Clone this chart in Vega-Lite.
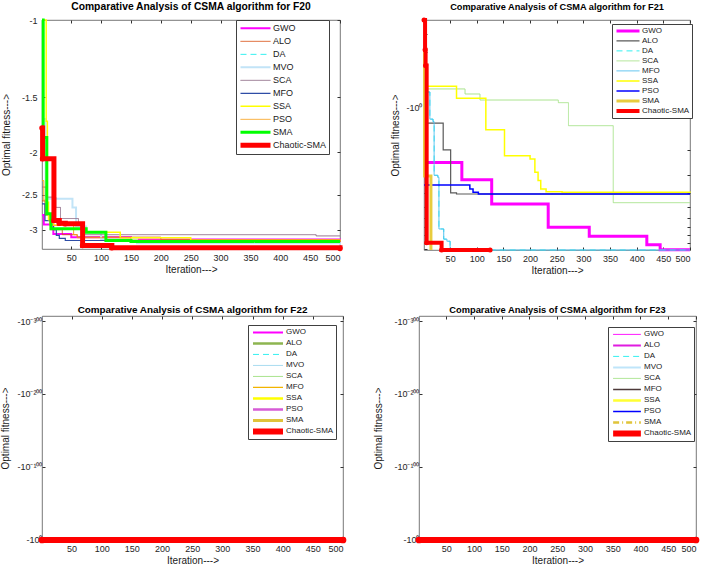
{
  "$schema": "https://vega.github.io/schema/vega-lite/v6.json",
  "padding": {"left": 0, "top": 1, "right": 2, "bottom": 0},
  "config": {
    "font": "Liberation Sans",
    "view": {"stroke": "#555555", "strokeWidth": 0.8},
    "axis": {"domain": false, "grid": false, "tickColor": "#333333", "labelColor": "#262626", "titleColor": "#1a1a1a", "titleFontWeight": "normal", "labelFontSize": 9, "titleFontSize": 10, "tickSize": -3, "labelOverlap": false},
    "axisX": {"labelPadding": 7, "titlePadding": 2},
    "axisY": {"labelPadding": 8},
    "legend": {"symbolType": "stroke", "title": null, "labelFontSize": 8.5, "padding": 2, "strokeColor": "#404040", "fillColor": "#ffffff", "labelColor": "#1a1a1a", "symbolSize": 900, "rowPadding": 0, "labelOffset": 0},
    "title": {"font": "Liberation Sans", "fontWeight": "bold", "color": "#000000", "frame": "group", "anchor": "middle"}
  },
  "datasets": {
    "f20": [
      {"a":"GWO","i":1,"v":-2.78},{"a":"GWO","i":4,"v":-2.92},{"a":"GWO","i":20,"v":-3.07},{"a":"GWO","i":50,"v":-3.12},{"a":"GWO","i":150,"v":-3.16},{"a":"GWO","i":500,"v":-3.2},
      {"a":"ALO","i":1,"v":-2.58},{"a":"ALO","i":6,"v":-2.78},{"a":"ALO","i":15,"v":-3.0},{"a":"ALO","i":35,"v":-3.08},{"a":"ALO","i":60,"v":-3.12},{"a":"ALO","i":200,"v":-3.16},{"a":"ALO","i":500,"v":-3.2},
      {"a":"DA","i":1,"v":-1.0},{"a":"DA","i":3,"v":-1.85},{"a":"DA","i":9,"v":-2.76},{"a":"DA","i":16,"v":-2.985},{"a":"DA","i":75,"v":-3.04},{"a":"DA","i":108,"v":-3.175},{"a":"DA","i":150,"v":-3.19},{"a":"DA","i":500,"v":-3.19},
      {"a":"MVO","i":1,"v":-1.68},{"a":"MVO","i":7,"v":-2.55},{"a":"MVO","i":52,"v":-2.67},{"a":"MVO","i":58,"v":-2.95},{"a":"MVO","i":75,"v":-3.05},{"a":"MVO","i":100,"v":-3.15},{"a":"MVO","i":160,"v":-3.22},{"a":"MVO","i":500,"v":-3.25},
      {"a":"SCA","i":1,"v":-2.4},{"a":"SCA","i":8,"v":-2.53},{"a":"SCA","i":24,"v":-2.67},{"a":"SCA","i":32,"v":-2.83},{"a":"SCA","i":62,"v":-2.93},{"a":"SCA","i":72,"v":-3.08},{"a":"SCA","i":460,"v":-3.10},{"a":"SCA","i":500,"v":-3.10},
      {"a":"MFO","i":1,"v":-2.62},{"a":"MFO","i":6,"v":-2.86},{"a":"MFO","i":20,"v":-3.0},{"a":"MFO","i":25,"v":-3.09},{"a":"MFO","i":30,"v":-3.14},{"a":"MFO","i":40,"v":-3.175},{"a":"MFO","i":500,"v":-3.19},
      {"a":"SSA","i":1,"v":-1.0},{"a":"SSA","i":8,"v":-1.7},{"a":"SSA","i":10,"v":-2.6},{"a":"SSA","i":12,"v":-2.85},{"a":"SSA","i":20,"v":-2.93},{"a":"SSA","i":68,"v":-3.04},{"a":"SSA","i":132,"v":-3.13},{"a":"SSA","i":250,"v":-3.17},{"a":"SSA","i":500,"v":-3.19},
      {"a":"PSO","i":1,"v":-2.32},{"a":"PSO","i":4,"v":-2.57},{"a":"PSO","i":10,"v":-2.75},{"a":"PSO","i":14,"v":-2.93},{"a":"PSO","i":54,"v":-3.08},{"a":"PSO","i":60,"v":-3.13},{"a":"PSO","i":150,"v":-3.17},{"a":"PSO","i":500,"v":-3.19},
      {"a":"SMA","i":1,"v":-1.0},{"a":"SMA","i":3,"v":-1.85},{"a":"SMA","i":9,"v":-2.76},{"a":"SMA","i":16,"v":-2.985},{"a":"SMA","i":75,"v":-3.04},{"a":"SMA","i":108,"v":-3.175},{"a":"SMA","i":150,"v":-3.19},{"a":"SMA","i":500,"v":-3.19},
      {"a":"Chaotic-SMA","i":1,"v":-1.76},{"a":"Chaotic-SMA","i":2,"v":-2.07},{"a":"Chaotic-SMA","i":21,"v":-2.86},{"a":"Chaotic-SMA","i":30,"v":-2.90},{"a":"Chaotic-SMA","i":40,"v":-2.91},{"a":"Chaotic-SMA","i":69,"v":-3.26},{"a":"Chaotic-SMA","i":118,"v":-3.30},{"a":"Chaotic-SMA","i":500,"v":-3.31}
    ],
    "f21": [
      {"a":"GWO","i":1,"v":-2.43},{"a":"GWO","i":72,"v":-3.22},{"a":"GWO","i":128,"v":-4.79},{"a":"GWO","i":234,"v":-7.01},{"a":"GWO","i":311,"v":-8.11},{"a":"GWO","i":419,"v":-9.31},{"a":"GWO","i":444,"v":-10.1},{"a":"GWO","i":500,"v":-10.1},
      {"a":"ALO","i":1,"v":-1.28},{"a":"ALO","i":37,"v":-1.98},{"a":"ALO","i":51,"v":-4.0},{"a":"ALO","i":62,"v":-4.07},{"a":"ALO","i":500,"v":-4.07},
      {"a":"DA","i":1,"v":-0.59},{"a":"DA","i":6,"v":-0.77},{"a":"DA","i":12,"v":-1.2},{"a":"DA","i":18,"v":-1.25},{"a":"DA","i":20,"v":-3.0},{"a":"DA","i":27,"v":-3.1},{"a":"DA","i":29,"v":-7.2},{"a":"DA","i":38,"v":-8.5},{"a":"DA","i":44,"v":-8.8},{"a":"DA","i":50,"v":-10.15},{"a":"DA","i":500,"v":-10.15},
      {"a":"SCA","i":1,"v":-0.733},{"a":"SCA","i":78,"v":-0.796},{"a":"SCA","i":106,"v":-0.878},{"a":"SCA","i":253,"v":-0.917},{"a":"SCA","i":272,"v":-1.335},{"a":"SCA","i":356,"v":-4.69},{"a":"SCA","i":500,"v":-4.69},
      {"a":"MFO","i":1,"v":-0.59},{"a":"MFO","i":6,"v":-0.77},{"a":"MFO","i":12,"v":-1.2},{"a":"MFO","i":18,"v":-1.25},{"a":"MFO","i":20,"v":-3.0},{"a":"MFO","i":27,"v":-3.1},{"a":"MFO","i":29,"v":-7.2},{"a":"MFO","i":38,"v":-8.5},{"a":"MFO","i":44,"v":-8.8},{"a":"MFO","i":50,"v":-10.15},{"a":"MFO","i":500,"v":-10.15},
      {"a":"SSA","i":1,"v":-0.702},{"a":"SSA","i":62,"v":-0.854},{"a":"SSA","i":117,"v":-1.425},{"a":"SSA","i":152,"v":-2.18},{"a":"SSA","i":200,"v":-2.30},{"a":"SSA","i":209,"v":-2.86},{"a":"SSA","i":215,"v":-3.27},{"a":"SSA","i":220,"v":-3.75},{"a":"SSA","i":230,"v":-3.92},{"a":"SSA","i":260,"v":-3.96},{"a":"SSA","i":500,"v":-3.98},
      {"a":"PSO","i":1,"v":-3.51},{"a":"PSO","i":87,"v":-3.75},{"a":"PSO","i":93,"v":-3.96},{"a":"PSO","i":103,"v":-4.07},{"a":"PSO","i":500,"v":-4.07},
      {"a":"SMA","i":1,"v":-0.382},{"a":"SMA","i":2,"v":-3.03},{"a":"SMA","i":14,"v":-10.15},
      {"a":"Chaotic-SMA","i":1,"v":-0.238},{"a":"Chaotic-SMA","i":3,"v":-0.386},{"a":"Chaotic-SMA","i":4,"v":-0.50},{"a":"Chaotic-SMA","i":6,"v":-9.0},{"a":"Chaotic-SMA","i":34,"v":-10.15},{"a":"Chaotic-SMA","i":125,"v":-10.15}
    ],
    "f22": [
      {"a":"GWO","i":1,"v":-10.40},{"a":"GWO","i":500,"v":-10.40},
      {"a":"ALO","i":1,"v":-10.40},{"a":"ALO","i":500,"v":-10.40},
      {"a":"DA","i":1,"v":-10.40},{"a":"DA","i":500,"v":-10.40},
      {"a":"MVO","i":1,"v":-10.40},{"a":"MVO","i":500,"v":-10.40},
      {"a":"SCA","i":1,"v":-10.40},{"a":"SCA","i":500,"v":-10.40},
      {"a":"MFO","i":1,"v":-10.40},{"a":"MFO","i":500,"v":-10.40},
      {"a":"SSA","i":1,"v":-10.40},{"a":"SSA","i":500,"v":-10.40},
      {"a":"PSO","i":1,"v":-10.40},{"a":"PSO","i":500,"v":-10.40},
      {"a":"SMA","i":1,"v":-10.40},{"a":"SMA","i":500,"v":-10.40},
      {"a":"Chaotic-SMA","i":1,"v":-10.40},{"a":"Chaotic-SMA","i":500,"v":-10.40}
    ],
    "f23": [
      {"a":"GWO","i":1,"v":-10.53},{"a":"GWO","i":500,"v":-10.53},
      {"a":"ALO","i":1,"v":-10.53},{"a":"ALO","i":500,"v":-10.53},
      {"a":"DA","i":1,"v":-10.53},{"a":"DA","i":500,"v":-10.53},
      {"a":"MVO","i":1,"v":-10.53},{"a":"MVO","i":500,"v":-10.53},
      {"a":"SCA","i":1,"v":-10.53},{"a":"SCA","i":500,"v":-10.53},
      {"a":"MFO","i":1,"v":-10.53},{"a":"MFO","i":500,"v":-10.53},
      {"a":"SSA","i":1,"v":-10.53},{"a":"SSA","i":500,"v":-10.53},
      {"a":"PSO","i":1,"v":-10.53},{"a":"PSO","i":500,"v":-10.53},
      {"a":"SMA","i":1,"v":-10.53},{"a":"SMA","i":500,"v":-10.53},
      {"a":"Chaotic-SMA","i":1,"v":-10.53},{"a":"Chaotic-SMA","i":500,"v":-10.53}
    ]
  },
  "resolve": {"scale": {"color": "independent", "strokeWidth": "independent", "strokeDash": "independent", "x": "independent", "y": "independent"}, "legend": {"color": "independent", "strokeWidth": "independent", "strokeDash": "independent"}},
  "spacing": 28,
  "vconcat": [
    {
      "spacing": 39,
      "resolve": {"scale": {"color": "independent", "strokeWidth": "independent", "strokeDash": "independent", "x": "independent", "y": "independent"}, "legend": {"color": "independent", "strokeWidth": "independent", "strokeDash": "independent"}},
      "hconcat": [
        {
          "title": {"text": "Comparative Analysis of CSMA algorithm for F20", "fontSize": 10.3, "offset": 2},
          "width": 298, "height": 229,
          "data": {"name": "f20"},
          "resolve": {"axis": {"x": "independent", "y": "independent"}},
          "layer": [
            {
              "mark": {"type": "line", "interpolate": "step-after"},
              "encoding": {
                "x": {"field": "i", "type": "quantitative", "scale": {"domain": [1, 500], "nice": false}, "axis": {"title": "Iteration--->", "values": [50,100,150,200,250,300,350,400,450,500]}},
                "y": {"field": "v", "type": "quantitative", "scale": {"type": "log", "domain": [-3.32, -1], "nice": false}, "axis": {"title": "Optimal fitness--->", "values": [-1,-1.5,-2,-2.5,-3], "labelExpr": "'' + datum.value", "titlePadding": 10}},
                "color": {"field": "a", "type": "nominal", "scale": {"domain": ["GWO","ALO","DA","MVO","SCA","MFO","SSA","PSO","SMA","Chaotic-SMA"], "range": ["#FF00FF","#D95319","#33F0F0","#C2E4F7","#8E6B86","#2E4DA6","#FFFF00","#F7A11A","#00FF00","#FF0000"]}, "legend": {"orient": "none", "legendX": 194, "legendY": 0, "labelFontSize": 9, "clipHeight": 12.7, "encode": {"symbols": {"update": {"strokeWidth": {"signal": "datum.value == 'Chaotic-SMA' ? 3 : datum.value == 'SMA' ? 3 : indexof(['GWO','MVO','SSA'], datum.value) >= 0 ? 2 : 1"}}}}}},
                "strokeWidth": {"field": "a", "type": "nominal", "legend": null, "scale": {"type": "ordinal", "domain": ["GWO","ALO","DA","MVO","SCA","MFO","SSA","PSO","SMA","Chaotic-SMA"], "range": [2,1,1,2,1,1.2,1.5,1,3,5]}},
                "strokeDash": {"field": "a", "type": "nominal", "scale": {"domain": ["GWO","ALO","DA","MVO","SCA","MFO","SSA","PSO","SMA","Chaotic-SMA"], "range": [[1,0],[1,0],[6,4],[1,0],[1,0],[1,0],[1,0],[1,0],[1,0],[1,0]]}}
              }
            },
            {
              "transform": [{"filter": {"field": "a", "equal": "Chaotic-SMA"}}],
              "mark": {"type": "point", "filled": true, "size": 30, "color": "#FF0000", "opacity": 1},
              "encoding": {
                "x": {"field": "i", "type": "quantitative", "axis": {"orient": "top", "title": null, "labels": false, "values": [50,100,150,200,250,300,350,400,450,500]}},
                "y": {"field": "v", "type": "quantitative", "axis": {"orient": "right", "title": null, "labels": false, "values": [-1,-1.5,-2,-2.5,-3]}}
              }
            }
          ]
        },
        {
          "title": {"text": "Comparative Analysis of CSMA algorithm for F21", "fontSize": 9.2, "offset": 0},
          "width": 266, "height": 230,
          "data": {"name": "f21"},
          "resolve": {"axis": {"x": "independent", "y": "independent"}},
          "layer": [
            {
              "mark": {"type": "line", "interpolate": "step-after"},
              "encoding": {
                "x": {"field": "i", "type": "quantitative", "scale": {"domain": [1, 500], "nice": false}, "axis": {"title": "Iteration--->", "values": [50,100,150,200,250,300,350,400,450,500]}},
                "y": {"field": "v", "type": "quantitative", "scale": {"type": "log", "domain": [-10.15, -0.238], "nice": false}, "axis": {"title": "Optimal fitness--->", "values": [-0.3,-0.4,-0.5,-0.6,-0.7,-0.8,-0.9,-1,-2,-3,-4,-5,-6,-7,-8,-9,-10], "labelExpr": "datum.value == -1 ? '-10⁰' : ''", "titlePadding": 5, "labelPadding": 5}},
                "color": {"field": "a", "type": "nominal", "scale": {"domain": ["GWO","ALO","DA","SCA","MFO","SSA","PSO","SMA","Chaotic-SMA"], "range": ["#FF00FF","#595959","#33F0F0","#A9E38D","#4DBEEE","#FFFF00","#0000FF","#E8CC3E","#FF0000"]}, "legend": {"orient": "none", "legendX": 188, "legendY": 4, "labelFontSize": 8, "symbolSize": 530, "clipHeight": 9.75, "encode": {"symbols": {"update": {"strokeWidth": {"signal": "datum.value == 'Chaotic-SMA' ? 3 : indexof(['GWO','SMA'], datum.value) >= 0 ? 3 : indexof(['ALO'], datum.value) >= 0 ? 1.5 : 1"}}}}}},
                "strokeWidth": {"field": "a", "type": "nominal", "legend": null, "scale": {"type": "ordinal", "domain": ["GWO","ALO","DA","SCA","MFO","SSA","PSO","SMA","Chaotic-SMA"], "range": [3,1.2,1,1,1,1.5,1.5,3,4]}},
                "strokeDash": {"field": "a", "type": "nominal", "scale": {"domain": ["GWO","ALO","DA","SCA","MFO","SSA","PSO","SMA","Chaotic-SMA"], "range": [[1,0],[1,0],[6,4],[1,0],[1,0],[1,0],[1,0],[1,0],[1,0]]}}
              }
            },
            {
              "transform": [{"filter": {"field": "a", "equal": "Chaotic-SMA"}}],
              "mark": {"type": "point", "filled": true, "size": 25, "color": "#FF0000", "opacity": 1},
              "encoding": {
                "x": {"field": "i", "type": "quantitative", "axis": {"orient": "top", "title": null, "labels": false, "values": [50,100,150,200,250,300,350,400,450,500]}},
                "y": {"field": "v", "type": "quantitative", "axis": {"orient": "right", "title": null, "labels": false, "values": [-0.3,-0.4,-0.5,-0.6,-0.7,-0.8,-0.9,-1,-2,-3,-4,-5,-6,-7,-8,-9,-10]}}
              }
            }
          ]
        }
      ]
    },
    {
      "spacing": 17,
      "resolve": {"scale": {"color": "independent", "strokeWidth": "independent", "strokeDash": "independent", "x": "independent", "y": "independent"}, "legend": {"color": "independent", "strokeWidth": "independent", "strokeDash": "independent"}},
      "hconcat": [
        {
          "title": {"text": "Comparative Analysis of CSMA algorithm for F22", "fontSize": 9.9, "offset": 1},
          "width": 301, "height": 224,
          "data": {"name": "f22"},
          "resolve": {"axis": {"x": "independent", "y": "independent"}},
          "layer": [
            {
              "mark": {"type": "line", "interpolate": "step-after", "strokeCap": "round"},
              "encoding": {
                "x": {"field": "i", "type": "quantitative", "scale": {"domain": [1, 500], "nice": false}, "axis": {"title": "Iteration--->", "values": [50,100,150,200,250,300,350,400,450,500]}},
                "y": {"field": "v", "type": "quantitative", "scale": {"type": "log", "domain": [-10.6, -1e-307], "nice": false}, "axis": {"title": "Optimal fitness--->", "values": [-1, -1e-100, -1e-200, -1e-300], "labelExpr": "datum.value == -1 ? '-10⁰' : datum.value == -1e-100 ? '-10⁻¹⁰⁰' : datum.value == -1e-200 ? '-10⁻²⁰⁰' : '-10⁻³⁰⁰'", "titlePadding": 6, "labelPadding": 3}},
                "color": {"field": "a", "type": "nominal", "scale": {"domain": ["GWO","ALO","DA","MVO","SCA","MFO","SSA","PSO","SMA","Chaotic-SMA"], "range": ["#FF00FF","#8DB550","#33F0F0","#A9DCF0","#A9E38D","#F2B400","#FFFF00","#D65CD6","#E0C43A","#FF0000"]}, "legend": {"orient": "none", "legendX": 206, "legendY": 9, "labelFontSize": 8, "clipHeight": 10.85, "encode": {"symbols": {"update": {"strokeWidth": {"signal": "datum.value == 'Chaotic-SMA' ? 3.3 : indexof(['GWO','ALO','SSA','PSO','SMA'], datum.value) >= 0 ? 2.5 : 1"}}}}}},
                "strokeWidth": {"field": "a", "type": "nominal", "legend": null, "scale": {"type": "ordinal", "domain": ["GWO","ALO","DA","MVO","SCA","MFO","SSA","PSO","SMA","Chaotic-SMA"], "range": [2,2.5,1,1,1,1.2,2.5,2.5,3,6]}},
                "strokeDash": {"field": "a", "type": "nominal", "scale": {"domain": ["GWO","ALO","DA","MVO","SCA","MFO","SSA","PSO","SMA","Chaotic-SMA"], "range": [[1,0],[1,0],[6,4],[1,0],[1,0],[1,0],[1,0],[1,0],[1,0],[1,0]]}}
              }
            },
            {
              "transform": [{"filter": {"field": "a", "equal": "Chaotic-SMA"}}],
              "mark": {"type": "point", "filled": true, "size": 45, "color": "#FF0000", "opacity": 1},
              "encoding": {
                "x": {"field": "i", "type": "quantitative", "axis": {"orient": "top", "title": null, "labels": false, "values": [50,100,150,200,250,300,350,400,450,500]}},
                "y": {"field": "v", "type": "quantitative", "axis": {"orient": "right", "title": null, "labels": false, "values": [-1, -1e-100, -1e-200, -1e-300]}}
              }
            }
          ]
        },
        {
          "title": {"text": "Comparative Analysis of CSMA algorithm for F23", "fontSize": 9.3, "offset": 0},
          "width": 277, "height": 224,
          "data": {"name": "f23"},
          "resolve": {"axis": {"x": "independent", "y": "independent"}},
          "layer": [
            {
              "mark": {"type": "line", "interpolate": "step-after", "strokeCap": "round"},
              "encoding": {
                "x": {"field": "i", "type": "quantitative", "scale": {"domain": [1, 500], "nice": false}, "axis": {"title": "Iteration--->", "values": [50,100,150,200,250,300,350,400,450,500]}},
                "y": {"field": "v", "type": "quantitative", "scale": {"type": "log", "domain": [-10.6, -1e-307], "nice": false}, "axis": {"title": "Optimal fitness--->", "values": [-1, -1e-100, -1e-200, -1e-300], "labelExpr": "datum.value == -1 ? '-10⁰' : datum.value == -1e-100 ? '-10⁻¹⁰⁰' : datum.value == -1e-200 ? '-10⁻²⁰⁰' : '-10⁻³⁰⁰'", "titlePadding": 10, "labelPadding": 3}},
                "color": {"field": "a", "type": "nominal", "scale": {"domain": ["GWO","ALO","DA","MVO","SCA","MFO","SSA","PSO","SMA","Chaotic-SMA"], "range": ["#FF00FF","#E01BE0","#33F0F0","#BFE5FA","#A9E38D","#4D3A3A","#FFFF33","#0000FF","#E0C43A","#FF0000"]}, "legend": {"orient": "none", "legendX": 189, "legendY": 11, "labelFontSize": 8, "symbolSize": 770, "clipHeight": 10.8, "encode": {"symbols": {"update": {"strokeWidth": {"signal": "datum.value == 'Chaotic-SMA' ? 3.3 : indexof(['ALO','MVO','SSA','SMA'], datum.value) >= 0 ? 2.5 : indexof(['MFO','PSO'], datum.value) >= 0 ? 1.5 : 1"}}}}}},
                "strokeWidth": {"field": "a", "type": "nominal", "legend": null, "scale": {"type": "ordinal", "domain": ["GWO","ALO","DA","MVO","SCA","MFO","SSA","PSO","SMA","Chaotic-SMA"], "range": [1,2,1,2,1,1.5,2.5,1.5,2.5,6]}},
                "strokeDash": {"field": "a", "type": "nominal", "scale": {"domain": ["GWO","ALO","DA","MVO","SCA","MFO","SSA","PSO","SMA","Chaotic-SMA"], "range": [[1,0],[1,0],[6,4],[1,0],[1,0],[1,0],[1,0],[1,0],[6,3,1,3],[1,0]]}}
              }
            },
            {
              "transform": [{"filter": {"field": "a", "equal": "Chaotic-SMA"}}],
              "mark": {"type": "point", "filled": true, "size": 45, "color": "#FF0000", "opacity": 1},
              "encoding": {
                "x": {"field": "i", "type": "quantitative", "axis": {"orient": "top", "title": null, "labels": false, "values": [50,100,150,200,250,300,350,400,450,500]}},
                "y": {"field": "v", "type": "quantitative", "axis": {"orient": "right", "title": null, "labels": false, "values": [-1, -1e-100, -1e-200, -1e-300]}}
              }
            }
          ]
        }
      ]
    }
  ]
}
